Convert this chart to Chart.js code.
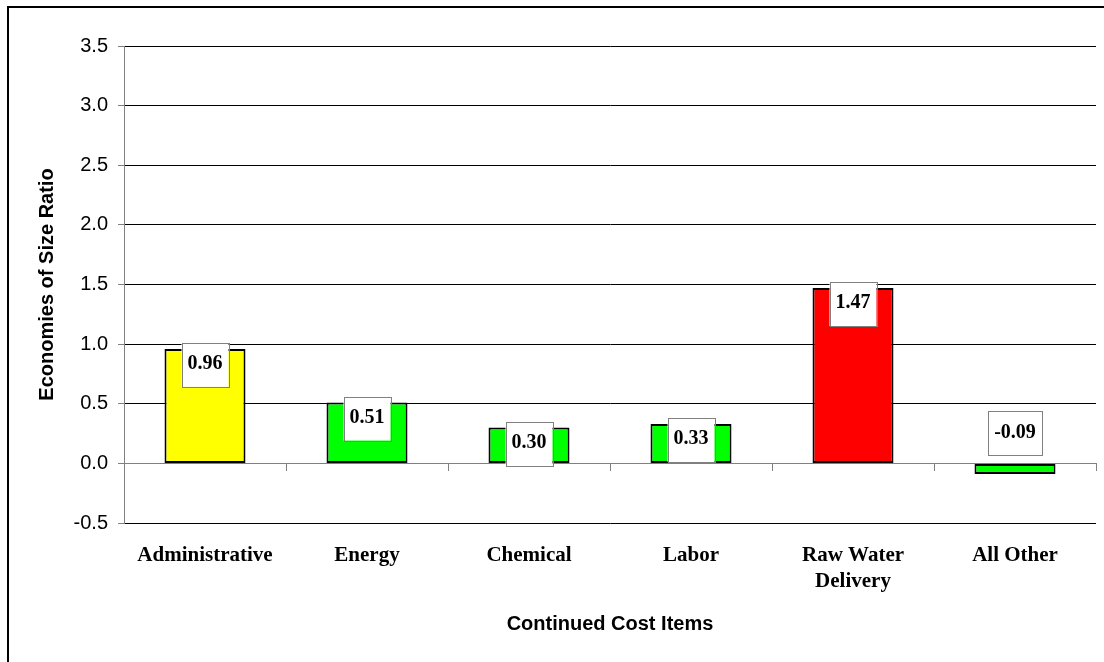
<!DOCTYPE html>
<html>
<head>
<meta charset="utf-8">
<script src="https://cdn.jsdelivr.net/npm/chart.js@4/dist/chart.umd.min.js"></script>
<style>
  html, body { margin: 0; padding: 0; background: #fff; }
  #wrap { width: 1104px; height: 662px; position: relative; }
</style>
</head>
<body>
<div id="wrap"><canvas id="c" width="1104" height="662"></canvas></div>
<script>
const categories = ['Administrative', 'Energy', 'Chemical', 'Labor', ['Raw Water', 'Delivery'], 'All Other'];
const ratios = [0.96, 0.51, 0.30, 0.33, 1.47, -0.09];
const barColors = ['#FFFF00', '#00FF00', '#00FF00', '#00FF00', '#FF0000', '#00FF00'];
const yTickMin = -0.5;
const yTickMax = 3.5;
const yTickStep = 0.5;

const frame = {
  id: 'frame',
  beforeDraw(chart) {
    const ctx = chart.ctx;
    ctx.save();
    ctx.fillStyle = '#fff';
    ctx.fillRect(0, 0, chart.width, chart.height);
    ctx.strokeStyle = '#000';
    ctx.lineWidth = 2;
    ctx.strokeRect(8, 7, chart.width + 10, chart.height + 10);
    ctx.restore();
  }
};

const valueLabels = {
  id: 'valueLabels',
  afterDatasetsDraw(chart) {
    const ctx = chart.ctx;
    const meta = chart.getDatasetMeta(0);
    const yScale = chart.scales.y;
    const y0 = yScale.getPixelForValue(0);
    ctx.save();
    ctx.font = 'bold 20px "Liberation Serif", "Times New Roman", serif';
    ctx.textAlign = 'center';
    ctx.textBaseline = 'middle';
    meta.data.forEach((bar, i) => {
      const v = ratios[i];
      const txt = v.toFixed(2);
      const w = ctx.measureText(txt).width + 12;
      const h = 44;
      const top = v >= 0 ? yScale.getPixelForValue(v) - 6 : y0 - 8 - h;
      const left = bar.x - w / 2;
      ctx.fillStyle = '#fff';
      ctx.fillRect(left, top, w, h);
      ctx.strokeStyle = '#808080';
      ctx.lineWidth = 1;
      ctx.strokeRect(Math.round(left) + 0.5, Math.round(top) + 0.5, Math.round(w), h);
      ctx.fillStyle = '#000';
      ctx.fillText(txt, bar.x, top + 21);
    });
    ctx.restore();
  }
};

new Chart(document.getElementById('c'), {
  type: 'bar',
  data: {
    labels: categories,
    datasets: [{
      data: ratios,
      backgroundColor: barColors,
      borderColor: '#000',
      borderWidth: 2,
      borderSkipped: false,
      barPercentage: 0.5,
      categoryPercentage: 1.0,
      xAxisID: 'x',
      yAxisID: 'y'
    }]
  },
  options: {
    responsive: false,
    animation: false,
    events: [],
    layout: { padding: { left: 0, right: 8, top: 46, bottom: 0 } },
    plugins: { legend: { display: false }, tooltip: { enabled: false } },
    scales: {
      x: {
        type: 'category',
        position: 'bottom',
        offset: true,
        grid: { display: false, drawTicks: false, tickLength: 0 },
        border: { display: false },
        ticks: {
          color: '#000',
          padding: 19,
          maxRotation: 0,
          autoSkip: false,
          font: { family: '"Liberation Serif", "Times New Roman", serif', size: 21, weight: 'bold', lineHeight: 1.25 }
        },
        title: {
          display: true,
          text: 'Continued Cost Items',
          color: '#000',
          font: { family: '"Liberation Sans", Arial, sans-serif', size: 20, weight: 'bold', lineHeight: 1.2 },
          padding: { top: 0, bottom: 26 }
        },
        afterFit(scale) { scale.height = 139; }
      },
      x2: {
        type: 'category',
        axis: 'x',
        position: { y: 0 },
        offset: true,
        grid: { display: true, drawOnChartArea: false, drawTicks: true, tickLength: 7, color: '#808080', tickColor: '#808080', lineWidth: 1 },
        border: { display: true, color: '#808080', width: 1 },
        ticks: { display: false }
      },
      y: {
        type: 'linear',
        position: 'left',
        min: yTickMin,
        max: yTickMax,
        ticks: {
          stepSize: yTickStep,
          color: '#000',
          padding: 10,
          font: { family: '"Liberation Sans", Arial, sans-serif', size: 20 },
          callback: (v) => Number(v).toFixed(1)
        },
        grid: {
          color: (c) => (c.tick && c.tick.value === 0) ? '#808080' : '#000',
          tickColor: '#808080',
          tickLength: 6,
          lineWidth: 1
        },
        border: { display: true, color: '#808080', width: 1 },
        title: {
          display: true,
          text: 'Economies of Size Ratio',
          color: '#000',
          font: { family: '"Liberation Sans", Arial, sans-serif', size: 20, weight: 'bold', lineHeight: 1.2 },
          padding: { top: 35, bottom: 0 }
        },
        afterFit(scale) { scale.width = 124; }
      }
    }
  },
  plugins: [frame, valueLabels]
});
</script>
</body>
</html>
